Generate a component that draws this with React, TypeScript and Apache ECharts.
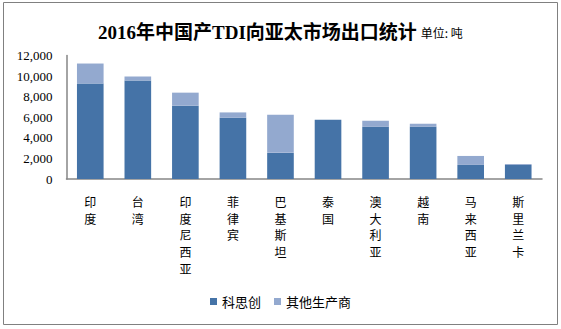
import React, { useEffect, useRef } from "react";
import * as echarts from "echarts";

// 2016 TDI exports from China to Asia-Pacific markets (tonnes)
const regions = ["印度", "台湾", "印度尼西亚", "菲律宾", "巴基斯坦", "泰国", "澳大利亚", "越南", "马来西亚", "斯里兰卡"];
const covestro = [9270, 9560, 7120, 5950, 2540, 5760, 5070, 5070, 1370, 1370];
const otherProducers = [1950, 390, 1270, 520, 3700, 0, 590, 300, 870, 90];
const seriesNames = ["科思创", "其他生产商"];
const titleText = "2016年中国产TDI向亚太市场出口统计";
const unitText = "单位: 吨";

const SERIF = "'Liberation Serif', 'Times New Roman', 'Noto Sans CJK SC', serif";
const CJK = "'Noto Sans CJK SC', 'Liberation Serif', sans-serif";

export default function App() {
  const ref = useRef<HTMLDivElement>(null);

  useEffect(() => {
    if (!ref.current) return;
    const chart = echarts.init(ref.current, undefined, { renderer: "svg" });
    chart.setOption({
      animation: false,
      backgroundColor: "#ffffff",
      title: {
        left: 93,
        top: 18,
        text: `{main|${titleText}}{unit|${unitText}}`,
        textStyle: {
          fontWeight: "normal",
          rich: {
            main: { fontFamily: SERIF, fontSize: 19, fontWeight: "bold", color: "#000000" },
            unit: { fontFamily: CJK, fontSize: 12, fontWeight: "normal", color: "#000000", padding: [0, 0, 1, 4] },
          },
        },
      },
      legend: {
        bottom: 16,
        left: "center",
        itemWidth: 7,
        itemHeight: 7,
        itemGap: 13,
        icon: "rect",
        textStyle: { fontFamily: CJK, fontSize: 13, color: "#000000" },
        data: seriesNames,
      },
      grid: { left: 66.5, right: 19, top: 55.5, bottom: 150, containLabel: false },
      xAxis: {
        type: "category",
        data: regions,
        axisLine: { lineStyle: { color: "#868686", width: 1.5 } },
        axisTick: { show: false },
        axisLabel: {
          interval: 0,
          margin: 14,
          fontFamily: CJK,
          fontSize: 12,
          lineHeight: 16.7,
          color: "#000000",
          verticalAlign: "top",
          formatter: (v: string) => v.split("").join("\n"),
        },
      },
      yAxis: {
        type: "value",
        min: 0,
        max: 12000,
        interval: 2000,
        axisLine: { show: true, lineStyle: { color: "#868686", width: 1.5 } },
        axisTick: { show: false },
        splitLine: { show: false },
        axisLabel: { margin: 14, fontFamily: SERIF, fontSize: 13, color: "#000000" },
      },
      series: [
        {
          name: seriesNames[0],
          type: "bar",
          stack: "total",
          barCategoryGap: "44%",
          itemStyle: { color: "#4573A7" },
          data: covestro,
        },
        {
          name: seriesNames[1],
          type: "bar",
          stack: "total",
          barCategoryGap: "44%",
          itemStyle: { color: "#93A9CF" },
          data: otherProducers,
        },
      ],
      graphic: [
        {
          type: "rect",
          shape: { x: 3.5, y: 2.5, width: 554, height: 322 },
          style: { fill: "none", stroke: "#808080", lineWidth: 1 },
          silent: true,
        },
      ],
    });
    return () => chart.dispose();
  }, []);

  return (
    <div
      ref={ref}
      style={{ position: "fixed", left: 0, top: 0, width: 561, height: 329 }}
    />
  );
}
